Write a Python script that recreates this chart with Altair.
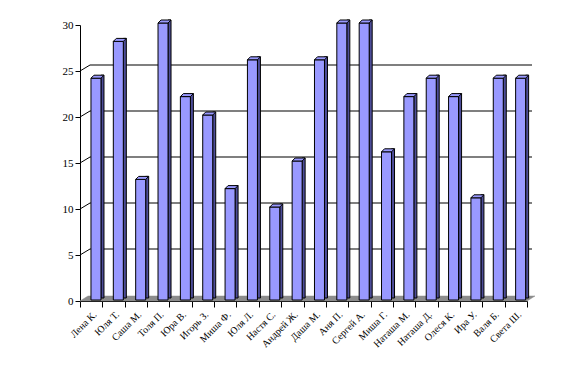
import altair as alt
import pandas as pd

names = ["Лена К.", "Юля Т.", "Саша М.", "Толя П.", "Юра В.", "Игорь З.", "Миша Ф.",
         "Юля Л.", "Настя С.", "Андрей Ж.", "Даша М.", "Аня П.", "Сергей А.", "Миша Г.",
         "Наташа М.", "Наташа Д.", "Олеся К.", "Ира У.", "Валя Б.", "Света Ш."]
values = [24, 28, 13, 30, 22, 20, 12, 26, 10, 15, 26, 30, 30, 16, 22, 24, 22, 11, 24, 24]
grid_values = [5, 10, 15, 20, 25]

df = pd.DataFrame({"name": names, "value": values})
gdf = pd.DataFrame({"g": grid_values})

FRONT = "#9999ff"
SIDE = "#4d4d99"

x_enc = alt.X("name:N", sort=names, title=None,
              scale=alt.Scale(paddingInner=0, paddingOuter=0),
              axis=alt.Axis(labelAngle=-45, tickBand="extent", labelFont="Liberation Serif",
                            labelFontSize=10, labelColor="black", tickColor="black",
                            domainColor="black", tickSize=6, labelPadding=2))
y_scale = alt.Scale(domain=[0, 30], nice=False)
y_enc = alt.Y("value:Q", scale=y_scale, title=None,
              axis=alt.Axis(values=[0, 5, 10, 15, 20, 25, 30], grid=False,
                            labelFont="Liberation Serif", labelFontSize=11,
                            labelColor="black", tickColor="black", domainColor="black",
                            tickSize=5))

base = alt.Chart(df)

floor = alt.Chart(gdf).mark_point(
    shape="M 0 0 L 447 0 L 455 -5 L 8 -5 Z", size=4, filled=True,
    fill="#8c8c8c", stroke="#8c8c8c", strokeWidth=0.5, opacity=1
).encode(
    x=alt.value(0), y=alt.Y("g:Q", scale=y_scale)
).transform_filter("datum.g == 5").transform_calculate(g="0")

grid = alt.Chart(gdf).mark_rule(color="black", strokeWidth=1.2, yOffset=-6).encode(
    x=alt.value(10), x2=alt.value(452),
    y=alt.Y("g:Q", scale=y_scale)
)
grid_diag = alt.Chart(gdf).mark_rule(color="black", strokeWidth=1, y2Offset=-6).encode(
    x=alt.value(0), x2=alt.value(10),
    y=alt.Y("g:Q", scale=y_scale), y2=alt.Y2("g:Q")
)

side = base.mark_bar(width=3, xOffset=11.3, color=SIDE, stroke="black", strokeWidth=1,
                     yOffset=-5, y2Offset=-3).encode(
    x=x_enc, y=y_enc, y2=alt.datum(0)
)
front = base.mark_bar(width=10, xOffset=4.8, color=FRONT, stroke="black", strokeWidth=1,
                      yOffset=-2, y2Offset=-1).encode(
    x=x_enc, y=y_enc, y2=alt.datum(0)
)
cap = base.mark_point(shape="M -5 0 L 5 0 L 8 -3 L -2 -3 Z", size=4, filled=True,
                      fill=FRONT, stroke="black", strokeWidth=1, opacity=1,
                      xOffset=4.8, yOffset=-2).encode(x=x_enc, y=y_enc)

chart = alt.layer(floor, grid, grid_diag, side, front, cap).properties(
    width=447, height=276,
    autosize=alt.AutoSizeParams(type="none"),
    padding={"left": 72, "top": 17, "right": 30, "bottom": 60},
    background="white"
).configure_view(stroke=None)

chart.save("out.html", embed_options={"renderer": "svg", "actions": False})
